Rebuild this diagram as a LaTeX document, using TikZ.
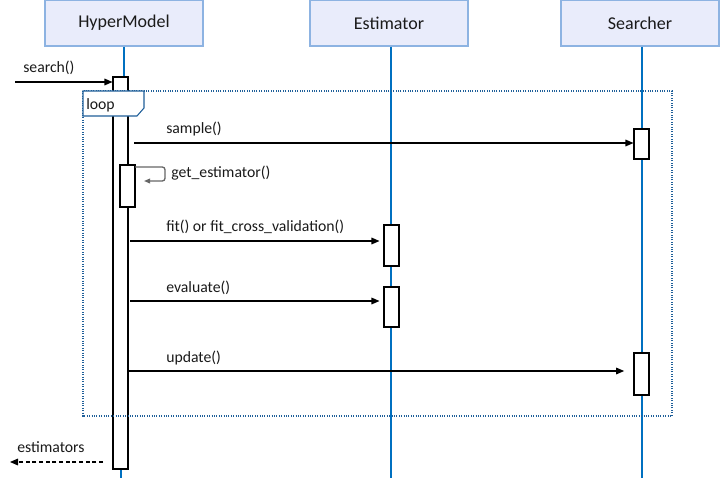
\documentclass[tikz,border=0pt]{standalone}
\usepackage{fontspec}
\setmainfont{Carlito}
\usetikzlibrary{arrows.meta,calc}
\definecolor{hdrfill}{HTML}{E9ECFB}
\definecolor{hdrline}{HTML}{8DB3E2}
\definecolor{lifeblue}{HTML}{0070C0}
\definecolor{framecol}{HTML}{1F5F99}
\definecolor{txt}{HTML}{1A1A1A}
\begin{document}
\begin{tikzpicture}[x=0.75pt,y=-0.75pt,
  header/.style={draw=hdrline, fill=hdrfill, line width=0.9pt, minimum width=118.5pt, minimum height=34.5pt, inner sep=0pt, text=txt, font=\fontsize{13.5}{16}\selectfont},
  life/.style={draw=lifeblue, line width=0.8pt},
  act/.style={draw=black, fill=white, line width=0.8pt, minimum width=11.25pt, inner sep=0pt},
  msg/.style={draw=black, line width=0.8pt, -{Triangle[length=6pt,width=5pt]}},
  selfmsg/.style={draw=gray!80!black, line width=1pt, rounded corners=2pt, -{Triangle[length=4.5pt,width=3.5pt]}},
  ret/.style={draw=black, line width=0.8pt, dash pattern=on 3pt off 2pt, -{Triangle[length=6pt,width=5pt]}},
  lbl/.style={anchor=base west, inner sep=0pt, text=txt, font=\fontsize{11.8}{14}\selectfont},
  frame/.style={draw=framecol, line width=0.8pt, densely dotted}
]
\useasboundingbox (0,0) rectangle (720,478);

% headers
\node[header] (hm) at (124,23) {HyperModel};
\node[header] (es) at (389,23) {Estimator};
\node[header] (se) at (640,23) {Searcher};

% lifeline ends
\coordinate (hmtop) at (124,77);
\coordinate (hmbot1) at (121,469);
\coordinate (hmbot2) at (121,478);
\coordinate (esbot) at (391,478);
\coordinate (sebot) at (642,478);

\draw[life] (hm.south -| hmtop) -- (hmtop);
\draw[life] (hmbot1) -- (hmbot2);
\draw[life] (es.south -| esbot) -- (esbot);
\draw[life] (se.south -| sebot) -- (sebot);

% activations
\node[act, minimum height=294pt] (hma) at (120.5,273) {};
\node[act, minimum height=31.5pt] (hmn) at (127.5,186) {};
\node[act, minimum height=22.5pt] (sa1) at (641.5,144) {};
\node[act, minimum height=30.75pt] (ea1) at (391.5,245.5) {};
\node[act, minimum height=30pt] (ea2) at (391.5,307) {};
\node[act, minimum height=31.5pt] (sa2) at (641.5,374) {};

% loop frame
\coordinate (fnw) at (83,91);
\coordinate (fse) at (672,416);
\draw[frame] (fnw) rectangle (fse);
\path[draw=framecol, fill=white, line width=0.8pt] (83,91) -- (144,91) -- (144,108) -- (137,116) -- (83,116) -- cycle;
\node[lbl] (looplbl) at (86,109) {loop};

% search()
\coordinate (srcstart) at (15,82);
\draw[msg] (srcstart) -- (hma.west |- srcstart);
\node[lbl] at (23,73) {search()};

% sample()
\coordinate (ysample) at (134,143);
\draw[msg] (ysample) -- (sa1.west |- ysample);
\node[lbl] at (166,133) {sample()};

% get_estimator()
\coordinate (g1) at (135,167);
\coordinate (g2) at (165,167);
\coordinate (g3) at (165,181);
\coordinate (g4) at (144,181);
\draw[selfmsg] (g1) -- (g2) -- (g3) -- (g4);
\node[lbl] at (171,177) {get\_estimator()};

% fit()
\coordinate (yfit) at (130,241);
\draw[msg, shorten >=3pt] (yfit) -- (ea1.west |- yfit);
\node[lbl] at (166,231) {fit() or fit\_cross\_validation()};

% evaluate()
\coordinate (yeval) at (130,301);
\draw[msg, shorten >=3pt] (yeval) -- (ea2.west |- yeval);
\node[lbl] at (166,292) {evaluate()};

% update()
\coordinate (yupd) at (127,371);
\draw[msg, shorten >=7pt] (yupd) -- (sa2.west |- yupd);
\node[lbl] at (166,362) {update()};

% return
\coordinate (retend) at (10,462);
\coordinate (retstart) at (103,462);
\draw[ret] (retstart) -- (retend);
\node[lbl] at (17,452) {estimators};
\end{tikzpicture}
\end{document}
